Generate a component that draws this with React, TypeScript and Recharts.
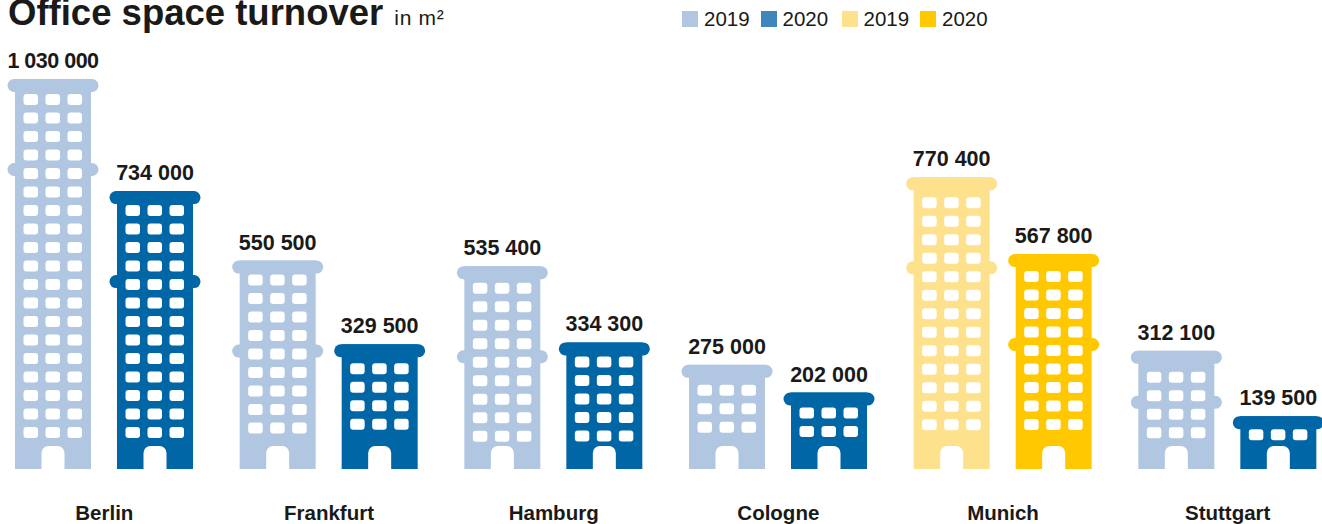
import { Bar, BarChart, Legend, XAxis, YAxis } from "recharts";

const cities = ["Berlin", "Frankfurt", "Hamburg", "Cologne", "Munich", "Stuttgart"];
const values2019 = [1030000, 550500, 535400, 275000, 770400, 312100];
const values2020 = [734000, 329500, 334300, 202000, 567800, 139500];
const legendItems = [
  { label: "2019", color: "#b0c6e1" },
  { label: "2020", color: "#3f86bc" },
  { label: "2019", color: "#fee18d" },
  { label: "2020", color: "#ffc800" },
];

const chartData = cities.map((city, i) => ({
  city,
  y2019: values2019[i],
  y2020: values2020[i],
}));

const FONT = '"Liberation Sans", Arial, sans-serif';
const BASELINE = 469;
const PITCH = 18.5;
const DOOR_TOP = 446;
const CAP = 13;

// gap between the roof and the first row of windows, it differs per building
const roofGap2019 = [2, 1, 3.5, 7, 7, 8];
const roofGap2020 = [1, 6, 1, 2, 4, 0];

const formatValue = (value: number) =>
  String(value).replace(/\B(?=(\d{3})+(?!\d))/g, " ");

// one bar drawn as a small office block
function Building(props: any) {
  const { x, y, width, height, fill, payload, dataKey, value, index } = props;
  const color = payload.city === "Munich" ? (dataKey === "y2019" ? "#fee18d" : "#ffc800") : fill;
  const gap = (dataKey === "y2019" ? roofGap2019 : roofGap2020)[index];
  const free = DOOR_TOP - (y + CAP);
  const rows = Math.max(1, Math.floor((free - 16) / PITCH) + 1);
  const windows = [];
  for (let r = 0; r < rows; r++) {
    for (let c = 0; c < 3; c++) {
      windows.push(
        <rect
          key={`${r}-${c}`}
          x={x + 8.5 + c * 22}
          y={y + CAP + gap + r * PITCH}
          width={14.5}
          height={11}
          rx={3}
          fill="#fff"
        />
      );
    }
  }
  let ledge: number | null = null;
  if (height > 150) ledge = y + 84;
  else if (payload.city === "Stuttgart" && dataKey === "y2019") ledge = y + 45;
  const doorX = x + 26.5;
  return (
    <g>
      <rect x={x} y={y} width={width} height={height} fill={color} />
      <rect x={x - 7.5} y={y} width={width + 15} height={CAP} rx={6.5} fill={color} />
      {ledge !== null && (
        <rect x={x - 7.5} y={ledge} width={width + 15} height={CAP} rx={6.5} fill={color} />
      )}
      {windows}
      <path
        d={`M${doorX} ${BASELINE}v-16a7 7 0 0 1 7-7h9a7 7 0 0 1 7 7v16z`}
        fill="#fff"
      />
      <text
        x={x + width / 2}
        y={y - 11}
        textAnchor="middle"
        fontFamily={FONT}
        fontWeight={700}
        fontSize={21.5}
        letterSpacing={value >= 1000000 ? -0.5 : 0}
        fill="#1a1a18"
      >
        {formatValue(value)}
      </text>
    </g>
  );
}

function ChartLegend() {
  return (
    <div style={{ display: "flex", fontFamily: FONT, fontSize: 20.5, color: "#1a1a18" }}>
      {legendItems.map((item, i) => (
        <div key={i} style={{ display: "flex", alignItems: "center", width: i === 1 ? 81 : 78.5 }}>
          <span style={{ width: 16, height: 16, background: item.color, marginRight: 6 }} />
          {item.label}
        </div>
      ))}
    </div>
  );
}

export default function App() {
  return (
    <div style={{ position: "absolute", left: 0, top: 0, width: 1322, height: 524, overflow: "hidden", background: "#fff" }}>
      <div style={{ position: "absolute", left: 8, top: -8, fontFamily: FONT, fontWeight: 700, fontSize: 36.5, color: "#1a1a18", whiteSpace: "nowrap" }}>
        Office space turnover
        <span style={{ fontWeight: 400, fontSize: 21, marginLeft: 11, letterSpacing: 0.7 }}>
          in m²
        </span>
      </div>
      <div style={{ position: "absolute", left: -8, top: 0 }}>
        <BarChart
          width={1348}
          height={524}
          data={chartData}
          margin={{ top: 79, right: 0, bottom: 0, left: 0 }}
          barSize={76}
          barGap={26}
        >
          <XAxis
            dataKey="city"
            axisLine={false}
            tickLine={false}
            interval={0}
            height={55}
            tick={{ fontFamily: FONT, fontWeight: 700, fontSize: 20.5, fill: "#1a1a18" }}
            tickMargin={30}
          />
          <YAxis hide domain={[0, 1030000]} />
          <Legend
            content={<ChartLegend />}
            layout="horizontal"
            verticalAlign="middle"
            wrapperStyle={{ position: "absolute", left: 690, top: 7, width: 340 }}
          />
          <Bar dataKey="y2019" fill="#b0c6e1" isAnimationActive={false} shape={<Building />} />
          <Bar dataKey="y2020" fill="#0066a6" isAnimationActive={false} shape={<Building />} />
        </BarChart>
      </div>
    </div>
  );
}
